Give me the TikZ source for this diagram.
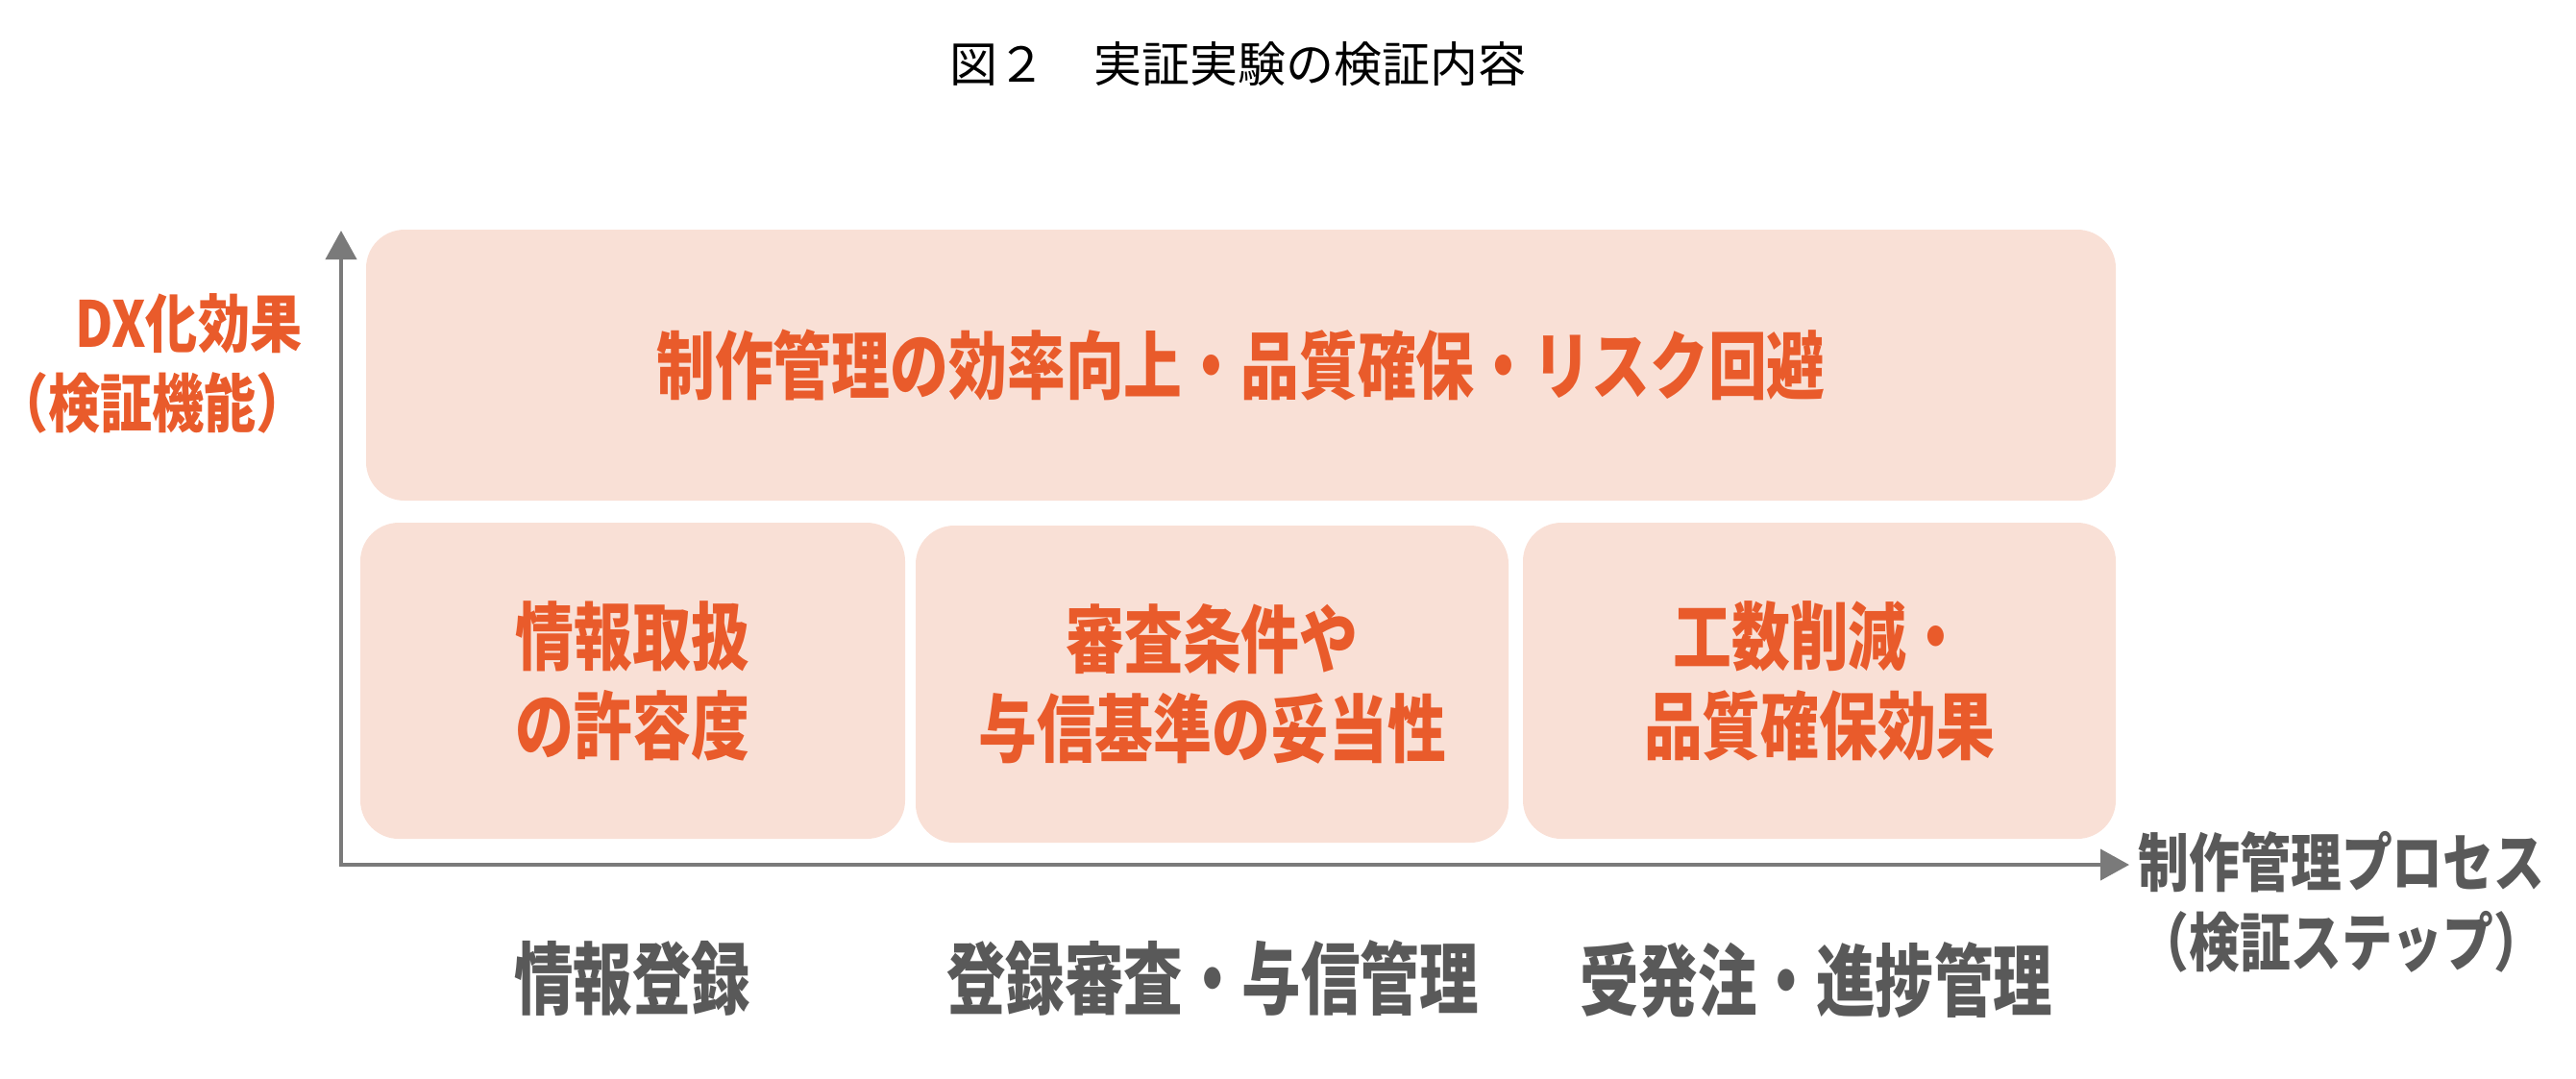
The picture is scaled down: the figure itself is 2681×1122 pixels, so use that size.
\documentclass[tikz,border=0pt]{standalone}
\usepackage{fontspec}
\usetikzlibrary{arrows.meta}
\newfontfamily\jptitle{Noto Sans CJK JP}
\newfontfamily\jpbox[FakeStretch=0.79]{Noto Sans CJK JP}
\newfontfamily\jpy[FakeStretch=0.82]{Noto Sans CJK JP}
\newfontfamily\jpx[FakeStretch=0.8]{Noto Sans CJK JP}
\newfontfamily\jpbot[FakeStretch=0.75]{Noto Sans CJK JP}
\definecolor{boxfill}{HTML}{F9E0D6}
\definecolor{accent}{HTML}{E95B2B}
\definecolor{axisgray}{HTML}{7A7A7A}
\definecolor{labelgray}{HTML}{595959}
\begin{document}
\begin{tikzpicture}[x=0.3pt,y=-0.3pt,
  card/.style={fill=boxfill, rounded corners=12pt, inner sep=0pt, outer sep=0pt,
    align=center, text=accent,
    font=\jpbox\bfseries\fontsize{23.1pt}{27.9pt}\selectfont},
  ylabel/.style={inner sep=0pt, align=right, text=accent,
    font=\jpy\bfseries\fontsize{19.8pt}{24.9pt}\selectfont},
  xlabel/.style={inner sep=0pt, align=center, text=labelgray,
    font=\jpx\bfseries\fontsize{19.8pt}{24.9pt}\selectfont},
  steplabel/.style={inner sep=0pt, text=labelgray,
    font=\jpbot\bfseries\fontsize{24.6pt}{28pt}\selectfont},
  axis/.style={draw=axisgray, line width=1.2pt,
    {Triangle[length=9pt,width=9.6pt]}-{Triangle[length=9pt,width=9.6pt]}}
]
\useasboundingbox (0,0) rectangle (2681,1122);

% title
\node[inner sep=0pt, font=\jptitle\fontsize{15pt}{18pt}\selectfont] (title) at (1288,67) {図２　実証実験の検証内容};

% axes
\coordinate (origin) at (355,900);
\coordinate (ytip) at (355,240);
\coordinate (xtip) at (2216,900);
\draw[axis] (ytip) -- (origin) -- (xtip);

% boxes
\node[card, minimum width=546.3pt, minimum height=84.6pt] (top) at (1291.5,380)
  {制作管理の効率向上・品質確保・リスク回避};
\node[card, minimum width=170.1pt, minimum height=98.7pt] (b1) at (658.5,708.5)
  {情報取扱\\の許容度};
\node[card, minimum width=185.1pt, minimum height=99pt] (b2) at (1261.5,712)
  {審査条件や\\与信基準の妥当性};
\node[card, minimum width=185.1pt, minimum height=98.7pt] (b3) at (1893.5,708.5)
  {工数削減・\\品質確保効果};

% axis labels
\node[ylabel, anchor=east] (ylab) at (315,378) {DX化効果\\\hspace*{-8pt}（検証機能）\hspace*{-2pt}};
\node[xlabel] (xlab) at (2437,939) {制作管理プロセス\\（検証ステップ）};

% step labels
\node[steplabel] (s1) at (658,1018) {情報登録};
\node[steplabel] (s2) at (1262,1018) {登録審査・与信管理};
\node[steplabel] (s3) at (1890,1020) {受発注・進捗管理};
\end{tikzpicture}
\end{document}
